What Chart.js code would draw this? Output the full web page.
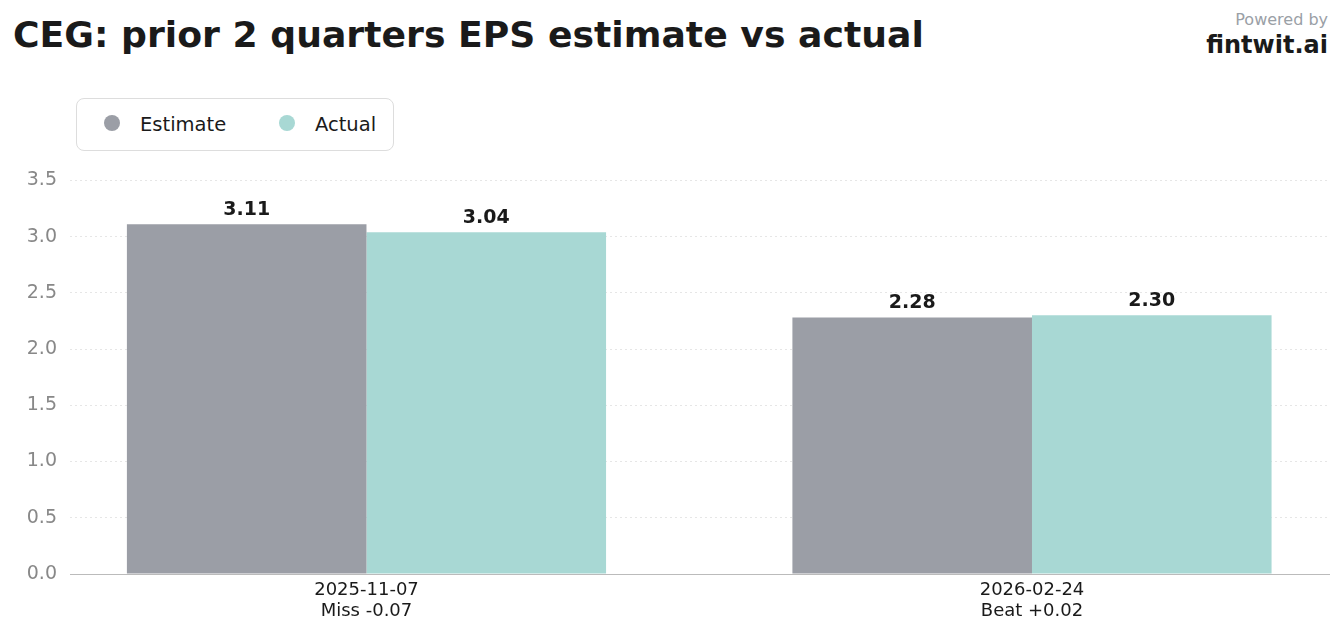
<!DOCTYPE html>
<html>
<head>
<meta charset="utf-8">
<script src="https://cdn.jsdelivr.net/npm/chart.js@4/dist/chart.umd.min.js"></script>
<style>
  html, body { margin: 0; padding: 0; background: #fff; }
  body { width: 1341px; height: 631px; position: relative; overflow: hidden; font-family: "DejaVu Sans", sans-serif; }
  #title { position: absolute; left: 13px; top: 13px; font-size: 36.2px; font-weight: bold; color: #1a1a1a; white-space: nowrap; line-height: 1.2; }
  #powered { position: absolute; right: 13px; top: 10px; font-size: 16px; color: #9aa0a6; line-height: 1.2; }
  #brand { position: absolute; right: 13px; top: 31px; font-size: 24px; font-weight: bold; color: #1a1a1a; line-height: 1.2; }
  #legend { position: absolute; left: 76px; top: 98px; width: 316px; height: 51px; border: 1px solid #dddddd; border-radius: 8px; box-sizing: content-box; }
  .li { position: absolute; top: 0; height: 51px; display: flex; align-items: center; font-size: 19.5px; color: #1a1a1a; }
  .dot { width: 16px; height: 16px; border-radius: 50%; margin-right: 20px; position: relative; top: -2px; }
  #wrap { position: absolute; left: 0; top: 156px; width: 1341px; height: 475px; }
</style>
</head>
<body>
<div id="title">CEG: prior 2 quarters EPS estimate vs actual</div>
<div id="powered">Powered by</div>
<div id="brand">fintwit.ai</div>
<div id="legend"></div>
<div id="wrap"><canvas id="c" width="1341" height="475"></canvas></div>
<script>
const dates = ["2025-11-07", "2026-02-24"];
const results = ["Miss -0.07", "Beat +0.02"];
const estimate = [3.11, 2.28];
const actual = [3.04, 2.30];
const seriesNames = ["Estimate", "Actual"];
const seriesColors = ["#9b9ea6", "#a8d8d4"];
const yTicks = [0, 0.5, 1.0, 1.5, 2.0, 2.5, 3.0, 3.5];

// HTML legend
const legend = document.getElementById('legend');
const legendX = [27, 202];
seriesNames.forEach((n, i) => {
  const d = document.createElement('div');
  d.className = 'li';
  d.style.left = legendX[i] + 'px';
  d.innerHTML = '<span class="dot" style="background:' + seriesColors[i] + '"></span><span>' + n + '</span>';
  legend.appendChild(d);
});

const valueLabels = {
  id: 'valueLabels',
  afterDatasetsDraw(chart) {
    const ctx = chart.ctx;
    ctx.save();
    ctx.font = 'bold 19px "DejaVu Sans"';
    ctx.fillStyle = '#1a1a1a';
    ctx.textAlign = 'center';
    ctx.textBaseline = 'bottom';
    chart.data.datasets.forEach((ds, di) => {
      const meta = chart.getDatasetMeta(di);
      meta.data.forEach((bar, i) => {
        ctx.fillText(ds.data[i].y.toFixed(2), bar.x, bar.y - 5);
      });
    });
    ctx.restore();
  }
};

new Chart(document.getElementById('c'), {
  type: 'bar',
  data: {
    datasets: [
      { label: seriesNames[0], data: estimate.map((v, i) => ({x: i, y: v})), backgroundColor: seriesColors[0], borderWidth: 0 },
      { label: seriesNames[1], data: actual.map((v, i) => ({x: i, y: v})), backgroundColor: seriesColors[1], borderWidth: 0 }
    ]
  },
  options: {
    responsive: false,
    animation: false,
    categoryPercentage: 0.72,
    barPercentage: 1.0,
    layout: { padding: { top: 16, right: 12, left: 0, bottom: 0 } },
    plugins: { legend: { display: false }, tooltip: { enabled: false } },
    scales: {
      x: {
        type: 'linear',
        offset: false,
        min: -0.4455,
        max: 1.4463,
        afterBuildTicks(scale) { scale.ticks = dates.map((d, i) => ({ value: i })); },
        afterFit(scale) { scale.height = 57; },
        grid: { display: false, drawTicks: false, offset: false },
        border: { display: true, color: '#bbbbbb', width: 1 },
        ticks: {
          padding: 6,
          color: '#1a1a1a',
          font: { family: 'DejaVu Sans', size: 18, lineHeight: 1.15 },
          maxRotation: 0,
          callback: (v) => [dates[v], results[v]]
        }
      },
      y: {
        min: 0,
        max: 3.5,
        afterBuildTicks(scale) { scale.ticks = yTicks.map(v => ({ value: v })); },
        afterFit(scale) { scale.width = 70; },
        grid: { color: '#e6e6e6', lineWidth: 1, drawTicks: false, tickLength: 0 },
        border: { display: false, dash: [2, 3] },
        ticks: {
          padding: 13,
          color: '#888888',
          font: { family: 'DejaVu Sans', size: 19 },
          callback: (v) => Number(v).toFixed(1)
        }
      }
    }
  },
  plugins: [valueLabels]
});
</script>
</body>
</html>
